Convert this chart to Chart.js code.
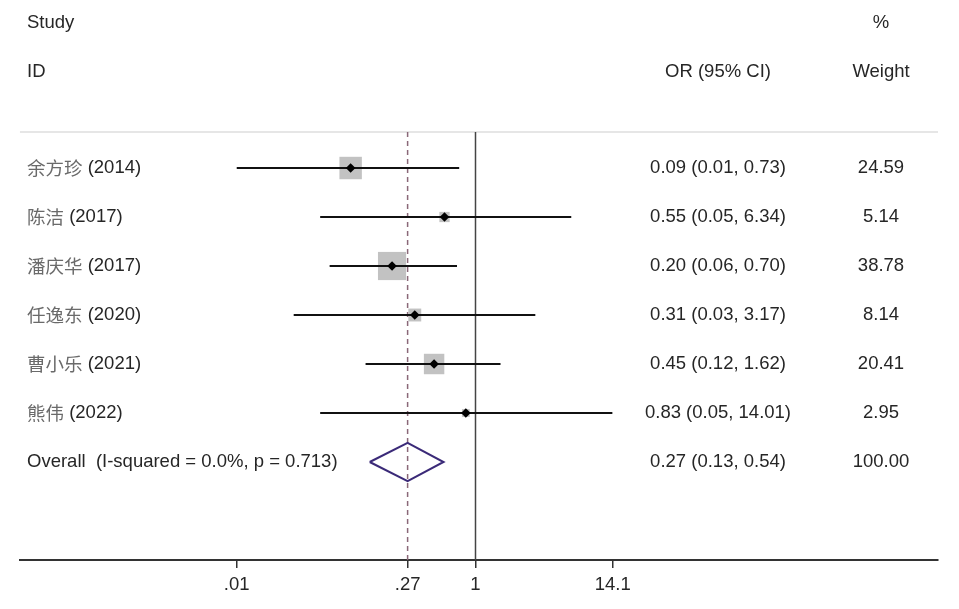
<!DOCTYPE html>
<html>
<head>
<meta charset="utf-8">
<script src="https://cdn.jsdelivr.net/npm/chart.js@4/dist/chart.umd.min.js"></script>
<style>
  html, body { margin: 0; padding: 0; background: #fff; }
  #wrap { width: 959px; height: 609px; }
</style>
</head>
<body>
<div id="wrap"><canvas id="forestChart"></canvas></div>
<script>
// Datos del forest plot
const studyNames = ["余方珍", "陈洁", "潘庆华", "任逸东", "曹小乐", "熊伟"];
const studyYears = ["2014", "2017", "2017", "2020", "2021", "2022"];
const orValues = [0.09, 0.55, 0.2, 0.31, 0.45, 0.83];
const ciLower = [0.01, 0.05, 0.06, 0.03, 0.12, 0.05];
const ciUpper = [0.73, 6.34, 0.7, 3.17, 1.62, 14.01];
const weights = [24.59, 5.14, 38.78, 8.14, 20.41, 2.95];
const overallLabel = "Overall  (I-squared = 0.0%, p = 0.713)";
const overallOr = 0.27;
const overallLower = 0.13;
const overallUpper = 0.54;
const overallWeight = "100.00";
const axisTicks = [0.01, 0.27, 1, 14.1];
const axisTickLabels = [".01", ".27", "1", "14.1"];

const Y_MIN = -0.735;
const Y_MAX = 8;
const BOX_SCALE = 3.2; // radio del cuadrado ~ sqrt(peso)
const DIAMOND_HALF = 0.39;

const latinFont = '"Liberation Sans", Arial, sans-serif';
const cjkFont = '"Noto Sans CJK SC", sans-serif';
const textColor = "#262626";

function fmt(v) {
  return v.toFixed(2);
}

// Líneas de IC, una por estudio
const ciDatasets = studyNames.map((name, i) => ({
  type: "line",
  data: [
    { x: ciLower[i], y: i },
    { x: ciUpper[i], y: i },
  ],
  borderColor: "#111",
  borderWidth: 2,
  pointRadius: 0,
  fill: false,
  order: 2,
}));

// Plugin para la línea de cabecera y los textos de las columnas
const forestText = {
  id: "forestText",
  beforeDatasetsDraw(chart) {
    const { ctx, chartArea } = chart;
    ctx.save();
    ctx.strokeStyle = "#dedede";
    ctx.lineWidth = 1.5;
    ctx.beginPath();
    ctx.moveTo(chartArea.left, chartArea.top);
    ctx.lineTo(chartArea.right, chartArea.top);
    ctx.stroke();
    ctx.restore();
  },
  afterDraw(chart) {
    const { ctx } = chart;
    const yScale = chart.scales.y;
    const size = 18.5;
    ctx.save();
    ctx.textBaseline = "middle";
    ctx.fillStyle = textColor;
    ctx.font = size + "px " + latinFont;

    // Cabeceras
    ctx.textAlign = "left";
    ctx.fillText("Study", 27, 23);
    ctx.fillText("ID", 27, 72);
    ctx.textAlign = "center";
    ctx.fillText("OR (95% CI)", 718, 72);
    ctx.fillText("%", 881, 23);
    ctx.fillText("Weight", 881, 72);

    // Filas de estudios
    studyNames.forEach((name, i) => {
      const y = yScale.getPixelForValue(i);
      ctx.textAlign = "left";
      ctx.font = size + "px " + cjkFont;
      ctx.fillStyle = "#6a6a6a";
      ctx.fillText(name, 27, y);
      const w = ctx.measureText(name).width;
      ctx.font = size + "px " + latinFont;
      ctx.fillStyle = textColor;
      ctx.fillText(" (" + studyYears[i] + ")", 27 + w, y);
      ctx.textAlign = "center";
      ctx.fillText(
        fmt(orValues[i]) + " (" + fmt(ciLower[i]) + ", " + fmt(ciUpper[i]) + ")",
        718,
        y
      );
      ctx.fillText(weights[i].toFixed(2), 881, y);
    });

    // Fila global
    const yo = yScale.getPixelForValue(studyNames.length);
    ctx.textAlign = "left";
    ctx.fillText(overallLabel, 27, yo);
    ctx.textAlign = "center";
    ctx.fillText(
      fmt(overallOr) + " (" + fmt(overallLower) + ", " + fmt(overallUpper) + ")",
      718,
      yo
    );
    ctx.fillText(overallWeight, 881, yo);
    ctx.restore();
  },
};

const rowOverall = studyNames.length;

new Chart(document.getElementById("forestChart"), {
  type: "scatter",
  data: {
    datasets: [
      // Línea vertical en OR = 1
      {
        type: "line",
        data: [
          { x: 1, y: Y_MIN },
          { x: 1, y: Y_MAX },
        ],
        borderColor: "#444",
        borderWidth: 1.5,
        pointRadius: 0,
        order: 5,
      },
      // Línea discontinua en el efecto global
      {
        type: "line",
        data: [
          { x: overallOr, y: Y_MIN },
          { x: overallOr, y: Y_MAX },
        ],
        borderColor: "#8a6878",
        borderWidth: 1.5,
        borderDash: [5, 4],
        pointRadius: 0,
        order: 4,
      },
      // Cuadrados de peso
      {
        data: orValues.map((v, i) => ({ x: v, y: i })),
        pointStyle: "rect",
        pointRadius: weights.map((w) => BOX_SCALE * Math.sqrt(w)),
        backgroundColor: "#c2c2c2",
        borderWidth: 0,
        order: 3,
      },
      ...ciDatasets,
      // Estimaciones puntuales
      {
        data: orValues.map((v, i) => ({ x: v, y: i })),
        pointStyle: "rectRot",
        pointRadius: 4.8,
        backgroundColor: "#000",
        borderWidth: 0,
        order: 1,
      },
      // Diamante del efecto global
      {
        type: "line",
        data: [
          { x: overallLower, y: rowOverall },
          { x: overallOr, y: rowOverall - DIAMOND_HALF },
          { x: overallUpper, y: rowOverall },
          { x: overallOr, y: rowOverall + DIAMOND_HALF },
          { x: overallLower, y: rowOverall },
        ],
        borderColor: "#3b2a78",
        borderWidth: 2,
        pointRadius: 0,
        fill: false,
        order: 0,
      },
    ],
  },
  options: {
    responsive: true,
    maintainAspectRatio: false,
    animation: false,
    events: [],
    layout: {
      padding: { left: 13, right: 21, top: 132, bottom: 0 },
    },
    plugins: {
      legend: { display: false },
      tooltip: { enabled: false },
    },
    scales: {
      x: {
        type: "logarithmic",
        min: 0.0001528,
        max: 7480,
        afterBuildTicks: (scale) => {
          scale.ticks = axisTicks.map((v) => ({ value: v }));
        },
        afterFit: (scale) => {
          scale.height = 49;
        },
        ticks: {
          autoSkip: false,
          maxRotation: 0,
          padding: 6,
          color: textColor,
          font: { family: latinFont, size: 18.5 },
          callback: (value, index) => axisTickLabels[index],
        },
        grid: {
          drawOnChartArea: false,
          drawTicks: true,
          tickLength: 8,
          color: "#333",
          lineWidth: 1.5,
        },
        border: { display: true, color: "#333", width: 2 },
      },
      y: {
        type: "linear",
        display: false,
        reverse: true,
        min: Y_MIN,
        max: Y_MAX,
      },
    },
  },
  plugins: [forestText],
});
</script>
</body>
</html>
